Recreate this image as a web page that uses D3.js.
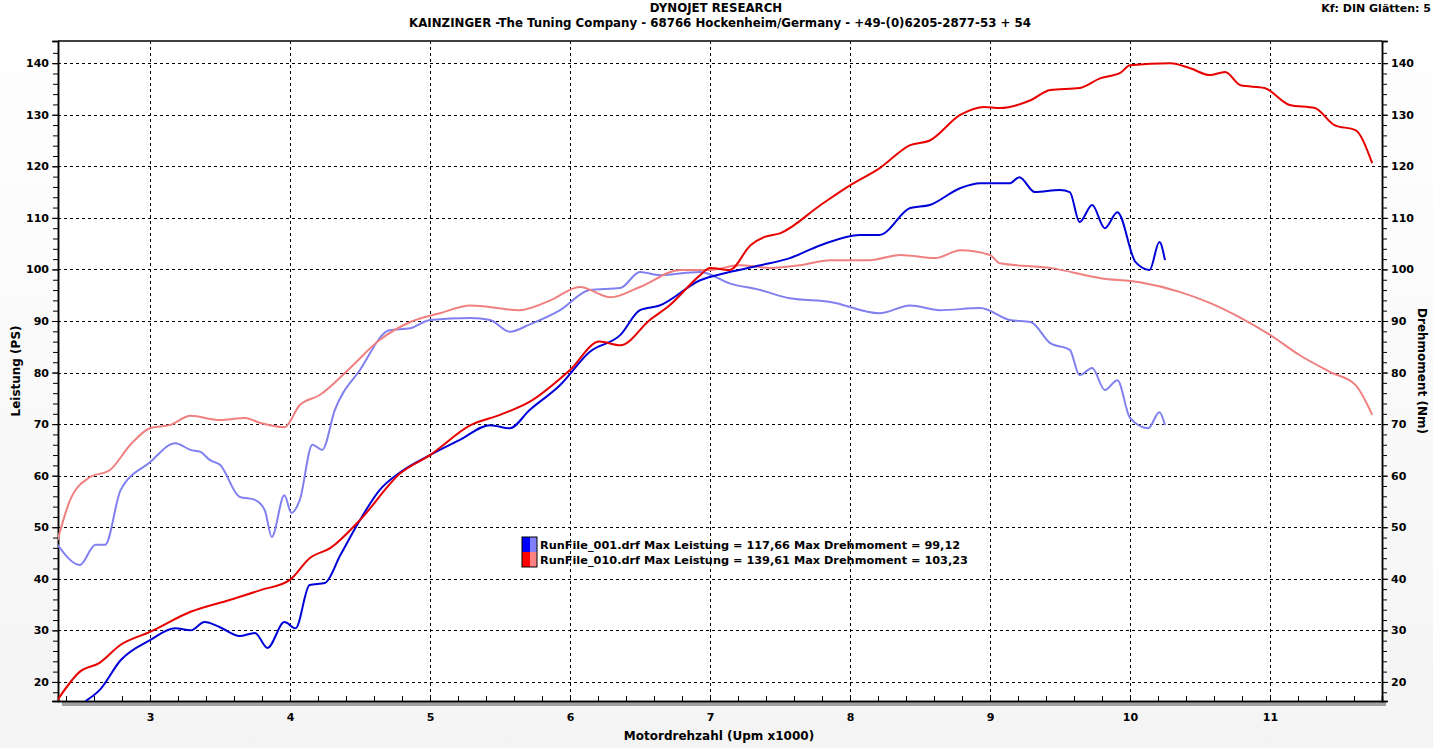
<!DOCTYPE html>
<html><head><meta charset="utf-8">
<script src="https://cdn.jsdelivr.net/npm/d3@7/dist/d3.min.js"></script>
<style>
body{margin:0;background:linear-gradient(#ffffff,#f4f4f4);}
svg text{font-family:Verdana,"DejaVu Sans",sans-serif;font-weight:bold;fill:#000;}
</style></head><body>
<svg id="chart" width="1433" height="748"></svg>
<script>
// rpm x1000 / value pairs
var run010Power = [[2.34,16.5],[2.50,22],[2.64,23.7],[2.79,27.2],[3.0,29.7],[3.29,33.6],[3.57,35.9],[3.79,37.8],[4.0,39.8],[4.14,44],[4.29,46],[4.5,51.4],[4.79,60.5],[5.0,64],[5.29,69.8],[5.5,71.8],[5.71,74.3],[6.0,80.5],[6.21,86.0],[6.36,85.3],[6.57,90.2],[6.71,93],[6.93,98.9],[7.0,100.3],[7.14,99.9],[7.29,104.7],[7.39,106.3],[7.5,107],[7.79,112.5],[8.0,116.3],[8.21,119.6],[8.43,124.1],[8.57,125],[8.79,130],[8.96,131.5],[9.07,131.3],[9.29,132.8],[9.43,134.8],[9.64,135.2],[9.79,137.1],[9.93,138.1],[10.0,139.6],[10.29,140],[10.43,139],[10.57,137.7],[10.68,138.3],[10.79,135.7],[10.96,135.2],[11.14,131.9],[11.32,131.3],[11.46,128],[11.61,127],[11.73,120.6]];
var run010Torque = [[2.34,47.5],[2.43,55.3],[2.57,59.7],[2.71,61],[2.86,66],[3.0,69.2],[3.14,69.8],[3.29,71.6],[3.5,70.8],[3.68,71.2],[3.79,70.2],[3.96,69.4],[4.07,73.7],[4.21,75.6],[4.43,80.9],[4.64,86.3],[4.86,89.8],[5.07,91.5],[5.29,93],[5.64,92.1],[5.86,94],[6.07,96.6],[6.29,94.6],[6.5,96.6],[6.79,99.9],[7.0,99.9],[7.21,100.8],[7.43,100.3],[7.64,100.8],[7.86,101.8],[8.14,101.8],[8.36,102.8],[8.61,102.2],[8.79,103.7],[9.0,102.8],[9.07,101.2],[9.43,100.3],[9.79,98.3],[10.07,97.5],[10.36,95.6],[10.57,93.5],[10.79,90.6],[11.0,87.3],[11.21,83.4],[11.43,80.1],[11.61,77.6],[11.73,71.8]];
var run001Power = [[2.54,16.3],[2.64,18.4],[2.79,24.2],[3.0,28.1],[3.18,30.4],[3.29,30],[3.39,31.6],[3.5,30.6],[3.64,28.9],[3.75,29.5],[3.84,26.6],[3.96,31.6],[4.04,30.4],[4.14,38.8],[4.25,39.2],[4.36,44.6],[4.5,51.4],[4.64,57.2],[4.79,60.7],[5.0,64],[5.21,66.9],[5.43,69.8],[5.57,69.2],[5.71,72.7],[5.93,77.6],[6.14,84],[6.36,87.3],[6.5,92.1],[6.64,93],[6.93,97.9],[7.14,99.5],[7.36,100.8],[7.57,102.2],[7.79,104.7],[8.07,106.7],[8.21,106.7],[8.43,111.9],[8.57,112.5],[8.79,115.8],[8.93,116.7],[9.14,116.7],[9.21,117.9],[9.32,115],[9.5,115.4],[9.57,115],[9.64,109.2],[9.73,112.5],[9.82,108],[9.91,111.1],[10.04,101.4],[10.14,99.9],[10.21,105.3],[10.25,101.8]];
var run001Torque = [[2.34,46.6],[2.5,42.7],[2.61,46.6],[2.68,46.6],[2.79,57.2],[3.0,62.6],[3.18,66.3],[3.29,65],[3.36,64.6],[3.43,63],[3.5,62.1],[3.64,55.9],[3.75,55.3],[3.82,53.3],[3.87,48.1],[3.96,56.2],[4.01,52.8],[4.07,55.3],[4.16,66],[4.23,65],[4.32,72.7],[4.5,80.5],[4.71,88.2],[4.86,88.6],[5.0,90.2],[5.29,90.6],[5.43,90.2],[5.57,87.9],[5.71,89.3],[5.93,92.1],[6.14,96],[6.36,96.4],[6.5,99.5],[6.64,98.9],[6.93,99.5],[7.14,97.3],[7.36,96],[7.57,94.4],[7.86,93.7],[8.21,91.5],[8.43,93],[8.64,92.1],[8.93,92.5],[9.14,90.2],[9.29,89.8],[9.43,85.7],[9.57,84.4],[9.64,79.5],[9.73,80.9],[9.82,76.6],[9.91,78.5],[10.0,71.2],[10.13,69.2],[10.21,72.3],[10.25,69.8]];
var xTicks = [3,4,5,6,7,8,9,10,11];
var yTicks = [20,30,40,50,60,70,80,90,100,110,120,130,140];
var legendRows = ["RunFile_001.drf Max Leistung = 117,66 Max Drehmoment = 99,12",
                  "RunFile_010.drf Max Leistung = 139,61 Max Drehmoment = 103,23"];

var svg = d3.select('#chart');
var L = 58, R = 1382, T = 41, B = 701;
var x = d3.scaleLinear().domain([2.343, 11.8]).range([L, R]);
var y = d3.scaleLinear().domain([16.3, 144.3]).range([B, T]);

svg.append('rect').attr('x', L + 4).attr('y', B).attr('width', R - L).attr('height', 5).attr('fill', '#a0a0a0');
svg.append('rect').attr('x', L).attr('y', T).attr('width', R - L).attr('height', B - T)
  .attr('fill', '#fff').attr('rx', 3);

// grid
var grid = svg.append('g').attr('stroke', '#000').attr('stroke-dasharray', '3,3').attr('stroke-width', 1);
grid.selectAll('.gx').data(xTicks).enter().append('line')
  .attr('x1', d => Math.round(x(d)) + .5).attr('x2', d => Math.round(x(d)) + .5).attr('y1', T).attr('y2', B);
grid.selectAll('.gy').data(yTicks).enter().append('line')
  .attr('y1', d => Math.round(y(d)) + .5).attr('y2', d => Math.round(y(d)) + .5).attr('x1', L).attr('x2', R);

// axes
var minorY = d3.range(18, 144, 2), minorX = d3.range(2.4, 11.8, 0.2);
svg.append('g').attr('transform', 'translate(' + L + ',0)')
  .call(d3.axisLeft(y).tickValues(minorY).tickSize(5).tickFormat(''));
svg.append('g').attr('transform', 'translate(' + L + ',0)')
  .call(d3.axisLeft(y).tickValues(yTicks).tickSize(6).tickFormat(d3.format('d')));
svg.append('g').attr('transform', 'translate(' + R + ',0)')
  .call(d3.axisRight(y).tickValues(minorY).tickSize(5).tickFormat(''));
svg.append('g').attr('transform', 'translate(' + R + ',0)')
  .call(d3.axisRight(y).tickValues(yTicks).tickSize(6).tickFormat(d3.format('d')));
svg.append('g').attr('transform', 'translate(0,' + B + ')')
  .call(d3.axisTop(x).tickValues(minorX).tickSize(5).tickFormat(''));
svg.append('g').attr('transform', 'translate(0,' + B + ')')
  .call(d3.axisBottom(x).tickValues(xTicks).tickSize(0).tickPadding(12).tickFormat(d3.format('d')));
svg.selectAll('.domain').attr('stroke', '#000').attr('stroke-width', 1.5);
svg.selectAll('.tick text').style('font-size', '11px').style('font-family', 'Verdana,"DejaVu Sans",sans-serif').style('font-weight', 'bold');
svg.append('line').attr('x1', L).attr('x2', R).attr('y1', T).attr('y2', T).attr('stroke', '#000').attr('stroke-width', 1.5);

// curves
var line = d3.line().x(d => x(d[0])).y(d => y(d[1])).curve(d3.curveMonotoneX);
svg.append('clipPath').attr('id', 'pc').append('rect').attr('x', L).attr('y', T).attr('width', R - L).attr('height', B - T);
var curves = [[run001Torque, '#8080f0'], [run010Torque, '#f08080'], [run001Power, '#0000d8'], [run010Power, '#e80000']];
svg.append('g').attr('clip-path', 'url(#pc)').selectAll('path').data(curves).enter().append('path')
  .attr('d', d => line(d[0])).attr('fill', 'none').attr('stroke', d => d[1]).attr('stroke-width', 2);

// legend
var lg = svg.append('g').attr('transform', 'translate(522,537)');
[['#0000ff', '#8080ff'], ['#ff0000', '#ff8080']].forEach(function(c, i) {
  lg.append('rect').attr('x', 0).attr('y', i * 15).attr('width', 8).attr('height', 15).attr('fill', c[0]);
  lg.append('rect').attr('x', 8).attr('y', i * 15).attr('width', 7).attr('height', 15).attr('fill', c[1]);
  lg.append('text').attr('x', 18).attr('y', i * 15 + 12).style('font-size', '11.3px').text(legendRows[i]);
});
lg.append('rect').attr('width', 15).attr('height', 30).attr('fill', 'none').attr('stroke', '#000');

// titles
svg.append('text').attr('x', 716).attr('y', 12).attr('text-anchor', 'middle').style('font-size', '11.8px').text('DYNOJET RESEARCH');
svg.append('text').attr('x', 720).attr('y', 27).attr('text-anchor', 'middle').style('font-size', '11.8px')
  .text('KAINZINGER -The Tuning Company - 68766 Hockenheim/Germany - +49-(0)6205-2877-53 + 54');
svg.append('text').attr('x', 1431).attr('y', 12).attr('text-anchor', 'end').style('font-size', '11px').text('Kf: DIN  Glätten: 5');
svg.append('text').attr('transform', 'translate(20,371) rotate(-90)').attr('text-anchor', 'middle').style('font-size', '12px').text('Leistung (PS)');
svg.append('text').attr('transform', 'translate(1418,371) rotate(90)').attr('text-anchor', 'middle').style('font-size', '12px').text('Drehmoment (Nm)');
svg.append('text').attr('x', 719).attr('y', 740).attr('text-anchor', 'middle').style('font-size', '12px').text('Motordrehzahl (Upm x1000)');
</script></body></html>
